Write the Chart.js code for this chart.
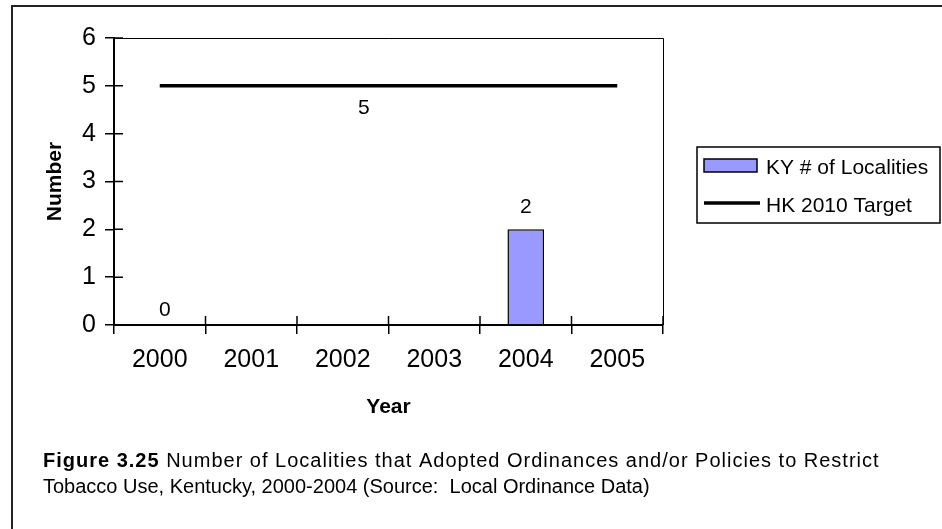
<!DOCTYPE html>
<html>
<head>
<meta charset="utf-8">
<title>Figure 3.25</title>
<script src="https://cdn.jsdelivr.net/npm/chart.js@4.4.1/dist/chart.umd.min.js"></script>
<style>
  html, body { margin: 0; padding: 0; background: #fff; }
  canvas { display: block; }
</style>
</head>
<body>
<canvas id="chart" width="942" height="529"></canvas>
<script>
// Values.
const years = ['2000', '2001', '2002', '2003', '2004', '2005'];
const localities = [0, null, null, null, 2, null];
const target = [5, 5, 5, 5, 5, 5];
const yTicks = [0, 1, 2, 3, 4, 5, 6];

const barLabel = 'KY # of Localities';
const lineLabel = 'HK 2010 Target';
const captionBold = 'Figure 3.25';
const captionLine1 = ' Number of Localities that Adopted Ordinances and/or Policies to Restrict';
const captionLine2 = 'Tobacco Use, Kentucky, 2000-2004 (Source:  Local Ordinance Data)';

// the "5" label of the target line sits a bit left of the line's middle
const targetLabelAt = 2.23;

// Look.
const fontFamily = '"Liberation Sans", Arial, sans-serif';
const barColor = '#9999ff';
const ink = '#000000';
const innerTick = 9;

// Plot area edges in the reference.
const plotLeft = 114;
const plotTop = 38;
const plotRight = 663;
const plotBottom = 325;
const padLeft = 30;
const padBottom = 109;

const font = (size, weight = 'normal') => `${weight} ${size}px ${fontFamily}`;

// fillText with extra space after every character, returns the end x
const fillSpaced = (ctx, text, x, y, spacing) => {
  for (const ch of text) {
    ctx.fillText(ch, x, y);
    x += ctx.measureText(ch).width + spacing;
  }
  return x;
};

// Draws everything Excel put around the chart: labels, frames, legend, caption.
const extras = {
  id: 'extras',
  beforeDraw(chart) {
    const ctx = chart.ctx;
    ctx.save();
    ctx.fillStyle = '#fff';
    ctx.fillRect(0, 0, chart.width, chart.height);
    ctx.restore();
  },
  afterDatasetsDraw(chart) {
    const ctx = chart.ctx;
    const x = chart.scales.x;
    const y = chart.scales.y;
    const area = chart.chartArea;
    ctx.save();

    // top and right edge of the plot area
    ctx.strokeStyle = ink;
    ctx.lineWidth = 1;
    ctx.beginPath();
    ctx.moveTo(area.left, area.top + 0.5);
    ctx.lineTo(area.right + 0.5, area.top + 0.5);
    ctx.lineTo(area.right + 0.5, area.bottom);
    ctx.stroke();

    // tick marks cross the axes, so add the inner half
    ctx.lineWidth = 1.5;
    ctx.beginPath();
    yTicks.forEach((v) => {
      const py = y.getPixelForValue(v);
      ctx.moveTo(area.left, py);
      ctx.lineTo(area.left + innerTick, py);
    });
    for (let i = 0; i <= years.length; i++) {
      const px = x.getPixelForValue(i - 0.5);
      ctx.moveTo(px, area.bottom);
      ctx.lineTo(px, area.bottom - innerTick);
    }
    ctx.stroke();

    // data labels
    ctx.fillStyle = ink;
    ctx.font = font(21);
    ctx.textAlign = 'center';
    ctx.textBaseline = 'middle';
    chart.getDatasetMeta(0).data.forEach((bar, i) => {
      const v = localities[i];
      if (v === null) return;
      // Excel puts the label of an empty bar a little lower
      const lift = v === 0 ? 15 : 22;
      ctx.fillText(String(v), bar.x + (v === 0 ? 5 : 0), bar.y - lift);
    });
    ctx.fillText(String(target[0]), x.getPixelForValue(targetLabelAt),
        y.getPixelForValue(target[0]) + 22);
    ctx.restore();
  },
  afterDraw(chart) {
    const ctx = chart.ctx;
    ctx.save();

    // outer frame, cut by the right and bottom edges of the picture
    ctx.strokeStyle = '#222';
    ctx.lineWidth = 2;
    ctx.beginPath();
    ctx.moveTo(12, chart.height);
    ctx.lineTo(12, 6);
    ctx.lineTo(chart.width, 6);
    ctx.stroke();

    // legend
    ctx.strokeStyle = ink;
    ctx.lineWidth = 1.5;
    ctx.strokeRect(697, 147, 243, 76);
    ctx.fillStyle = barColor;
    ctx.fillRect(704, 159, 53, 13);
    ctx.strokeRect(704, 159, 53, 13);
    ctx.lineWidth = 3.5;
    ctx.beginPath();
    ctx.moveTo(704, 203);
    ctx.lineTo(760, 203);
    ctx.stroke();
    ctx.fillStyle = ink;
    ctx.font = font(21);
    ctx.textAlign = 'left';
    ctx.textBaseline = 'alphabetic';
    ctx.fillText(chart.data.datasets[0].label, 766, 174);
    ctx.fillText(chart.data.datasets[1].label, 766, 212);

    // caption; the first line is stretched a little, like the Word original
    const capLeft = 43;
    ctx.font = font(20, 'bold');
    let cx = fillSpaced(ctx, captionBold, capLeft, 467, 1);
    ctx.font = font(20);
    fillSpaced(ctx, captionLine1, cx, 467, 1);
    ctx.fillText(captionLine2, capLeft, 493);
    ctx.restore();
  }
};

const chart = new Chart(document.getElementById('chart'), {
  type: 'bar',
  data: {
    labels: years,
    datasets: [
      {
        type: 'bar',
        label: barLabel,
        data: localities,
        backgroundColor: barColor,
        borderColor: ink,
        borderWidth: 1.5,
        barPercentage: 0.4,
        categoryPercentage: 1.0,
        order: 2
      },
      {
        type: 'line',
        label: lineLabel,
        data: target,
        borderColor: ink,
        backgroundColor: ink,
        borderWidth: 3.5,
        pointRadius: 0,
        fill: false,
        order: 1
      }
    ]
  },
  options: {
    responsive: false,
    animation: false,
    layout: {
      padding: { left: padLeft, top: plotTop, right: 942 - plotRight, bottom: padBottom }
    },
    plugins: {
      legend: { display: false },
      tooltip: { enabled: false }
    },
    scales: {
      x: {
        grid: {
          drawOnChartArea: false,
          color: ink,
          lineWidth: 1.5,
          tickLength: 9
        },
        border: { display: true, color: ink, width: 2 },
        ticks: { color: ink, font: { family: fontFamily, size: 25 }, padding: 11 },
        title: {
          display: true,
          text: 'Year',
          color: ink,
          font: { family: fontFamily, size: 21, weight: 'bold' },
          padding: 0
        },
        afterFit: (scale) => { scale.height = 529 - padBottom - plotBottom; }
      },
      y: {
        min: 0,
        max: 6,
        grid: {
          drawOnChartArea: false,
          color: ink,
          lineWidth: 1.5,
          tickLength: 9
        },
        border: { display: true, color: ink, width: 2 },
        ticks: { stepSize: 1, color: ink, font: { family: fontFamily, size: 25 }, padding: 9 },
        title: {
          display: true,
          text: 'Number',
          color: ink,
          font: { family: fontFamily, size: 21, weight: 'bold' },
          padding: { top: 13, bottom: 0 }
        },
        afterFit: (scale) => { scale.width = plotLeft - padLeft; }
      }
    }
  },
  plugins: [extras]
});
</script>
</body>
</html>
